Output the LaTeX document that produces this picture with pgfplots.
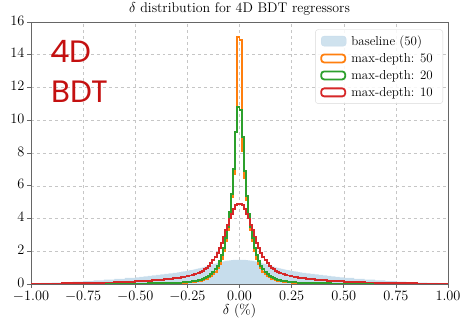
\documentclass[border=0pt]{standalone}
\usepackage{pgfplots}
\pgfplotsset{compat=1.18}
\usepackage{pgfplotstable}
\usepackage{fontspec}
\newfontfamily\logofont{Poppins}
\definecolor{cbase}{HTML}{C7DDEC}
\definecolor{corange}{HTML}{FF7F0E}
\definecolor{cgreen}{HTML}{2CA02C}
\definecolor{cred}{HTML}{D62728}
\definecolor{logored}{HTML}{C41010}

\pgfplotstableread{
x b o g r
-1.00 0.05 0.005 0.005 0.015
-0.95 0.07 0.005 0.006 0.02
-0.90 0.09 0.006 0.007 0.025
-0.85 0.12 0.007 0.008 0.035
-0.80 0.15 0.008 0.009 0.045
-0.75 0.18 0.009 0.010 0.055
-0.70 0.22 0.010 0.012 0.07
-0.65 0.26 0.011 0.015 0.09
-0.60 0.31 0.013 0.018 0.11
-0.55 0.37 0.015 0.020 0.13
-0.50 0.41 0.018 0.025 0.16
-0.48 0.44 0.020 0.028 0.18
-0.46 0.47 0.022 0.032 0.19
-0.44 0.50 0.025 0.035 0.21
-0.42 0.53 0.028 0.040 0.23
-0.40 0.56 0.030 0.045 0.25
-0.38 0.59 0.035 0.050 0.27
-0.36 0.62 0.040 0.055 0.29
-0.34 0.65 0.045 0.060 0.31
-0.32 0.68 0.050 0.070 0.34
-0.30 0.71 0.055 0.075 0.37
-0.29 0.73 0.060 0.080 0.39
-0.28 0.75 0.065 0.090 0.41
-0.27 0.77 0.070 0.100 0.43
-0.26 0.79 0.080 0.110 0.46
-0.25 0.82 0.090 0.125 0.49
-0.24 0.84 0.100 0.140 0.52
-0.23 0.87 0.120 0.160 0.56
-0.22 0.90 0.130 0.180 0.60
-0.21 0.93 0.150 0.200 0.64
-0.20 0.96 0.170 0.230 0.69
-0.19 0.99 0.200 0.270 0.75
-0.18 1.02 0.240 0.310 0.82
-0.17 1.06 0.280 0.360 0.90
-0.16 1.09 0.330 0.420 1.00
-0.15 1.13 0.400 0.500 1.12
-0.14 1.17 0.480 0.600 1.27
-0.13 1.21 0.600 0.740 1.45
-0.12 1.25 0.750 0.900 1.65
-0.11 1.29 0.950 1.120 1.90
-0.10 1.32 1.200 1.400 2.20
-0.09 1.35 1.550 1.750 2.50
-0.08 1.38 2.000 2.200 2.90
-0.07 1.41 2.600 2.800 3.30
-0.06 1.43 3.300 3.500 3.60
-0.05 1.45 4.300 4.400 4.00
-0.04 1.46 5.300 5.500 4.30
-0.03 1.47 6.700 7.000 4.60
-0.02 1.48 9.300 9.300 4.80
-0.01 1.48 15.10 10.80 4.90
0.00 1.48 14.90 10.60 4.90
0.01 1.48 8.100 9.000 4.80
0.02 1.47 6.500 6.900 4.60
0.03 1.46 5.100 5.400 4.30
0.04 1.45 4.100 4.300 4.00
0.05 1.43 3.300 3.500 3.60
0.06 1.41 2.600 2.800 3.30
0.07 1.38 2.000 2.200 2.90
0.08 1.35 1.550 1.750 2.50
0.09 1.32 1.200 1.400 2.20
0.10 1.29 0.950 1.120 1.90
0.11 1.25 0.750 0.900 1.65
0.12 1.21 0.600 0.740 1.45
0.13 1.17 0.480 0.600 1.27
0.14 1.13 0.400 0.500 1.12
0.15 1.09 0.330 0.420 1.00
0.16 1.06 0.280 0.360 0.90
0.17 1.02 0.240 0.310 0.82
0.18 0.99 0.200 0.270 0.75
0.19 0.96 0.170 0.230 0.69
0.20 0.93 0.150 0.200 0.64
0.21 0.90 0.130 0.180 0.60
0.22 0.87 0.120 0.160 0.56
0.23 0.84 0.100 0.140 0.52
0.24 0.82 0.090 0.125 0.49
0.25 0.79 0.080 0.110 0.46
0.26 0.77 0.070 0.100 0.43
0.27 0.75 0.065 0.090 0.41
0.28 0.73 0.060 0.080 0.39
0.29 0.71 0.055 0.075 0.37
0.30 0.68 0.050 0.070 0.34
0.32 0.65 0.045 0.060 0.31
0.34 0.62 0.040 0.055 0.29
0.36 0.59 0.035 0.050 0.27
0.38 0.56 0.030 0.045 0.25
0.40 0.53 0.028 0.040 0.23
0.42 0.50 0.025 0.035 0.21
0.44 0.47 0.022 0.032 0.19
0.46 0.44 0.020 0.028 0.18
0.48 0.41 0.018 0.025 0.16
0.50 0.37 0.015 0.020 0.13
0.55 0.31 0.013 0.018 0.11
0.60 0.26 0.011 0.015 0.09
0.65 0.22 0.010 0.012 0.07
0.70 0.18 0.009 0.010 0.055
0.75 0.15 0.008 0.009 0.045
0.80 0.12 0.007 0.008 0.035
0.85 0.09 0.006 0.007 0.025
0.90 0.07 0.005 0.006 0.02
0.95 0.05 0.005 0.005 0.015
1.00 0.05 0.005 0.005 0.015
}\histdata

\begin{document}
\begin{tikzpicture}
\begin{axis}[
  at={(0,0)}, anchor=south west,
  scale only axis,
  width=417bp, height=262bp,
  xmin=-1, xmax=1, ymin=0, ymax=16,
  xtick={-1,-0.75,-0.5,-0.25,0,0.25,0.5,0.75,1},
  ytick={0,2,4,6,8,10,12,14,16},
  xticklabel style={/pgf/number format/.cd, fixed, fixed zerofill, precision=2, /tikz/yshift=-2.5bp, /tikz/inner sep=1bp},
  yticklabel style={/pgf/number format/.cd, fixed, precision=0, /tikz/yshift=1.5bp, /tikz/inner sep=1bp, /tikz/xshift=-1.5bp},
  tick label style={font=\fontsize{14}{16}\selectfont},
  tick align=outside, tick pos=left,
  major tick length=4bp,
  every tick/.style={gray!80!black, line width=0.6pt},
  axis line style={gray!80!black, line width=0.8pt},
  grid=major,
  major grid style={dashed, gray!45, line width=0.5pt},
  title={$\delta$ distribution for 4D BDT regressors},
  title style={font=\fontsize{14}{16}\selectfont, yshift=-3bp},
  xlabel={$\delta$ (\%)},
  xlabel style={font=\fontsize{14}{16}\selectfont, yshift=3bp},
  legend style={at={(0.988,0.972)}, anchor=north east,
    font=\fontsize{13}{15}\selectfont,
    draw=gray!30, rounded corners=3pt, fill=white, fill opacity=0.85, text opacity=1,
    row sep=2.5bp, inner xsep=5bp, inner ysep=4bp,
    nodes={inner xsep=5bp}},
  legend cell align=left,
  legend image code/.code={\draw[#1, line width=1.8pt] (0bp,-4bp) rectangle (24bp,4bp);},
]
\addplot[const plot, draw=none, fill=cbase, forget plot] table[x=x,y=b] {\histdata} \closedcycle;
\addlegendimage{legend image code/.code={\fill[cbase] (0bp,-5bp) rectangle (25bp,5bp);}}
\addlegendentry{baseline (50)}
\addplot[const plot, draw=corange, line width=1.9pt] table[x=x,y=o] {\histdata};
\addlegendentry{max-depth: 50}
\addplot[const plot, draw=cgreen, line width=1.9pt] table[x=x,y=g] {\histdata};
\addlegendentry{max-depth: 20}
\addplot[const plot, draw=cred, line width=1.9pt] table[x=x,y=r] {\histdata};
\addlegendentry{max-depth: 10}
\end{axis}
\node[anchor=base west, text=logored, font=\logofont\fontsize{31}{36}\selectfont, inner sep=0pt] at (19bp,221bp) {4D};
\node[anchor=base west, text=logored, font=\logofont\fontsize{31}{36}\selectfont, inner sep=0pt] at (20bp,181bp) {BDT};
\pgfresetboundingbox
\path (-31bp,-40bp) rectangle (429bp,284bp);
\end{tikzpicture}
\end{document}
